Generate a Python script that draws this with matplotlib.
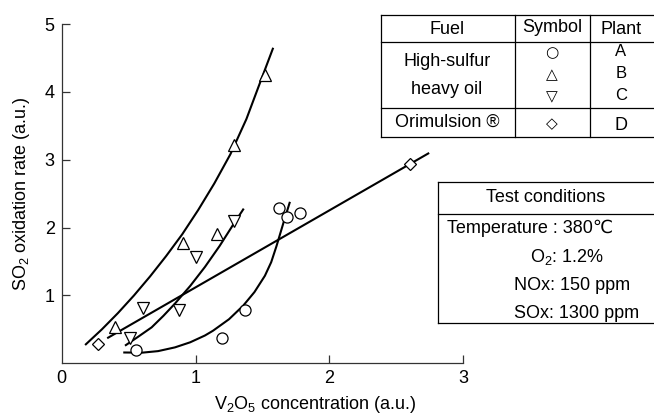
import matplotlib
matplotlib.use("Agg")
import matplotlib.pyplot as plt
from matplotlib.lines import Line2D

plt.rcParams['font.family'] = ['Liberation Sans', 'DejaVu Sans']
plt.rcParams['mathtext.fontset'] = 'custom'
plt.rcParams['mathtext.rm'] = 'Liberation Sans'
plt.rcParams['mathtext.it'] = 'Liberation Sans:italic'

# measured points (V2O5 concentration, SO2 oxidation rate)
plant_a_x = [0.555, 1.20, 1.37, 1.625, 1.685, 1.78]
plant_a_y = [0.20, 0.38, 0.79, 2.29, 2.15, 2.22]
plant_b_x = [0.40, 0.91, 1.16, 1.29, 1.52]
plant_b_y = [0.53, 1.77, 1.90, 3.21, 4.25]
plant_c_x = [0.51, 0.61, 0.88, 1.00, 1.29]
plant_c_y = [0.37, 0.82, 0.78, 1.56, 2.10]
plant_d_x = [0.27, 2.60]
plant_d_y = [0.28, 2.94]

# hand-drawn trend curves
curve_a_x = [0.46, 0.60, 0.72, 0.846, 0.96, 1.07, 1.13, 1.25, 1.356,
             1.44, 1.518, 1.565, 1.605, 1.655, 1.705]
curve_a_y = [0.16, 0.157, 0.18, 0.235, 0.31, 0.41, 0.48, 0.65, 0.85,
             1.05, 1.29, 1.49, 1.73, 2.06, 2.38]
curve_b_x = [0.175, 0.30, 0.42, 0.54, 0.66, 0.78, 0.90, 1.02, 1.14,
             1.26, 1.38, 1.494, 1.58]
curve_b_y = [0.27, 0.50, 0.74, 1.00, 1.28, 1.58, 1.90, 2.26, 2.65,
             3.08, 3.60, 4.20, 4.65]
curve_c_x = [0.473, 0.57, 0.672, 0.76, 0.846, 0.96, 1.07, 1.18, 1.28, 1.36]
curve_c_y = [0.26, 0.39, 0.53, 0.70, 0.88, 1.14, 1.42, 1.73, 2.04, 2.28]
line_d_x = [0.34, 2.745]
line_d_y = [0.37, 3.10]

fig = plt.figure(figsize=(6.54, 4.16), dpi=100)
ax = fig.add_axes([0.0943, 0.1266, 0.6141, 0.8157])

for cx, cy in [(curve_a_x, curve_a_y), (curve_b_x, curve_b_y),
               (curve_c_x, curve_c_y), (line_d_x, line_d_y)]:
    ax.plot(cx, cy, color='black', lw=1.5, solid_capstyle='butt',
            solid_joinstyle='round', zorder=2)

mk = dict(ls='none', mfc='white', mec='black', mew=0.9, zorder=3)
ax.plot(plant_a_x, plant_a_y, marker='o', ms=8, **mk)
ax.plot(plant_b_x, plant_b_y, marker='^', ms=9, **mk)
ax.plot(plant_c_x, plant_c_y, marker='v', ms=9, **mk)
ax.plot(plant_d_x, plant_d_y, marker='D', ms=6.5, **mk)

ax.set_xlim(0, 3)
ax.set_ylim(0, 5)
ax.set_xticks([0, 1, 2, 3])
ax.set_yticks([1, 2, 3, 4, 5])
ax.spines['top'].set_visible(False)
ax.spines['right'].set_visible(False)
for s in ['left', 'bottom']:
    ax.spines[s].set_linewidth(0.9)
    ax.spines[s].set_color('#333333')
ax.tick_params(direction='in', length=6, width=0.9, labelsize=13, pad=5, color='#333333')
ax.xaxis.get_major_ticks()[0].tick1line.set_visible(False)
ax.set_xlabel('V$_2$O$_5$ concentration (a.u.)', fontsize=13)
ax.set_ylabel('SO$_2$ oxidation rate (a.u.)', fontsize=13)
ax.xaxis.set_label_coords(0.63, -0.09)
ax.yaxis.set_label_coords(-0.073, 0.5)


def fx(px):
    return px / 654


def fy(py):
    return 1 - py / 416


def hline(x0, x1, y):
    fig.add_artist(Line2D([fx(x0), fx(x1)], [fy(y), fy(y)], color='black', lw=0.9))


def vline(x, y0, y1):
    fig.add_artist(Line2D([fx(x), fx(x)], [fy(y0), fy(y1)], color='black', lw=0.9))


def label(x, y, s, size=13, ha='center', family=None):
    fig.text(fx(x), fy(y), s, ha=ha, va='center', fontsize=size, family=family)


# fuel / symbol / plant table
hline(381, 654, 15)
hline(381, 654, 41.7)
hline(381, 654, 108.3)
hline(381, 654, 136.7)
vline(381, 15, 136.7)
vline(515, 15, 136.7)
vline(590, 15, 136.7)
label(447, 29, 'Fuel')
label(552, 27, 'Symbol')
label(621, 29, 'Plant')
label(447, 62, 'High-sulfur')
label(447, 89, 'heavy oil')
sym = ['\u25cb', '\u25b3', '\u25bd']
plants = ['A', 'B', 'C']
for i in range(3):
    label(552, 53 + 22 * i, sym[i], size=11, family=['DejaVu Sans'])
    label(621, 51 + 22 * i, plants[i], size=12)
label(447, 122, 'Orimulsion \u00ae')
label(552, 124, '\u25c7', size=11, family=['DejaVu Sans'])
label(621, 125, 'D')

# test conditions box
hline(438.3, 654, 181.7)
hline(438.3, 654, 214)
hline(438.3, 654, 323.3)
vline(438.3, 181.7, 323.3)
label(546, 197, 'Test conditions')
label(447, 228, 'Temperature : 380\u2103', ha='left')
label(530, 257, 'O$_2$: 1.2%', ha='left')
label(514, 285, 'NOx: 150 ppm', ha='left')
label(514, 313, 'SOx: 1300 ppm', ha='left')

fig.savefig('out.png', dpi=100)
